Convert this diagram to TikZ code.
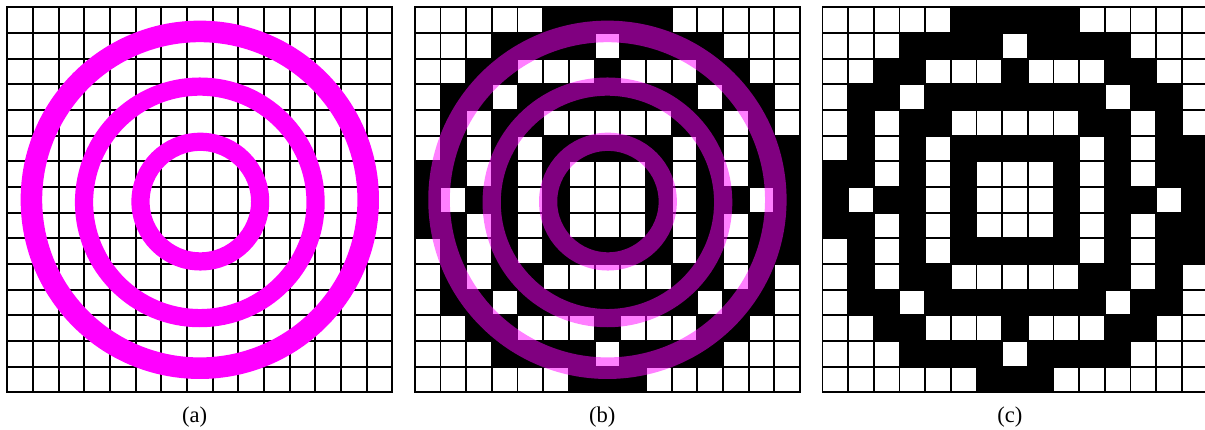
\documentclass[tikz,border=0pt]{standalone}
\usepackage{fontspec}
\setmainfont{Liberation Serif}

\definecolor{ringmag}{RGB}{255,0,255}
\tikzset{
  gridline/.style={line width=2pt},
  ringline/.style={draw=ringmag},
  caption/.style={font=\fontsize{25}{30}\selectfont},
}

% the three rings
\newcommand{\rings}{%
  \draw[ringline, line width=0.84cm] (7.5,7.5) circle (6.56);
  \draw[ringline, line width=0.71cm] (7.5,7.4) circle (4.51);
  \draw[ringline, line width=0.71cm] (7.52,7.43) circle (2.33);
}

% black cells, row 0 is the top row
\newcommand{\blackcells}{%
  \foreach \row/\cols in {0/{5,6,7,8,9}, 1/{3,4,5,6,8,9,10,11}, 2/{2,3,7,11,12},
      3/{1,2,4,5,6,7,8,9,10,12,13}, 4/{1,3,4,10,11,13}, 5/{1,3,5,6,7,8,9,11,13,14},
      6/{0,1,3,5,9,11,13,14}, 7/{0,2,3,5,9,11,12,14}, 8/{0,1,3,5,9,11,13,14},
      9/{1,3,5,6,7,8,9,11,13,14}, 10/{1,3,4,10,11,13}, 11/{1,2,4,5,6,7,8,9,10,12,13},
      12/{2,3,7,11,12}, 13/{3,4,5,6,8,9,10,11}, 14/{6,7,8}}
    \foreach \col in \cols
      \fill[black] (\col,14-\row) rectangle ++(1,1);
}

\newcommand{\cellgrid}{%
  \draw[gridline] (0,0) grid (15,15);
  \draw[gridline] (0,0) rectangle (15,15);
}

\begin{document}
\begin{tikzpicture}
  \fill[white] (-0.284,-1.467) rectangle (46.66,15.284);
  \useasboundingbox (-0.284,-1.467) rectangle (46.66,15.284);

  % (a)
  \begin{scope}
    \cellgrid
    \rings
  \end{scope}
  \node[caption] (capA) at (7.3,-0.96) {(a)};

  % (b)
  \begin{scope}[xshift=15.88cm]
    \blackcells
    \cellgrid
    \begin{scope}[opacity=0.5]
      \rings
    \end{scope}
  \end{scope}
  \node[caption] (capB) [right of=capA, node distance=15.88cm] {(b)};

  % (c)
  \begin{scope}[xshift=31.76cm]
    \blackcells
    \cellgrid
  \end{scope}
  \node[caption] (capC) [right of=capB, node distance=15.88cm] {(c)};
\end{tikzpicture}
\end{document}
